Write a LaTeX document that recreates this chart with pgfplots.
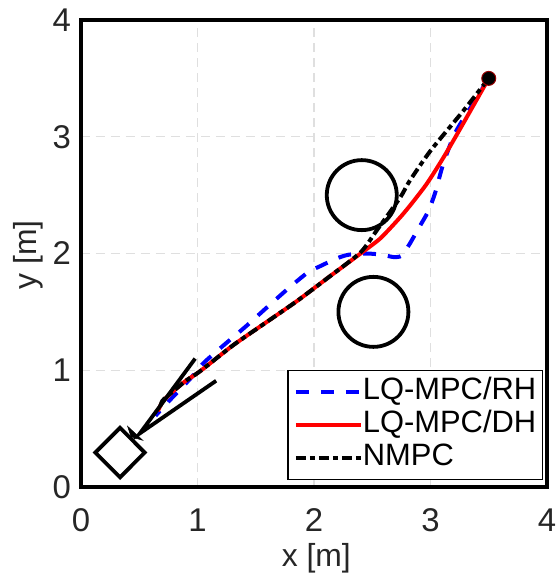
\documentclass[border=0pt]{standalone}
\usepackage{fontspec}
\setmainfont{Liberation Sans}
\usepackage{pgfplots}
\pgfplotsset{compat=1.18}
\definecolor{txt}{HTML}{262626}
\definecolor{gridc}{HTML}{DFDFDF}
\begin{document}
\begin{tikzpicture}
\begin{axis}[
  at={(0,0)}, anchor=south west,
  width=466bp, height=467bp, scale only axis,
  xmin=0, xmax=4, ymin=0, ymax=4,
  xtick={0,1,2,3,4}, ytick={0,1,2,3,4},
  /pgf/number format/assume math mode=true,
  tick label style={font=\fontsize{33}{36}\selectfont, text=txt, inner sep=0pt},
  xticklabel style={anchor=center, yshift=-33bp},
  yticklabel style={anchor=east, xshift=-10bp},
  major tick length=0pt,
  grid=major,
  major grid style={gridc, line width=1.3bp, dash pattern=on 9bp off 6bp},
  axis line style={black, line width=3.2bp},
  xlabel={x [m]}, ylabel={y [m]},
  label style={font=\fontsize{32}{35}\selectfont, text=txt},
  xlabel style={at={(axis description cs:0.505,-0.152)}, anchor=center},
  ylabel style={at={(axis description cs:-0.113,0.497)}, anchor=center},
  legend style={at={(rel axis cs:0.991,0.015)}, anchor=south east,
    font=\fontsize{31}{33}\selectfont, draw=black, line width=1.2bp,
    inner xsep=6bp, inner ysep=6bp, row sep=2bp,
    nodes={inner sep=0bp, text height=23bp, text depth=8bp},
    /tikz/every even column/.append style={column sep=7bp}},
  legend cell align=left,
  legend image code/.code={\draw[#1] (0bp,0bp) -- (65bp,0bp);},
]
% LQ-MPC/RH
\addplot[blue, line width=4bp, smooth, tension=0.4, dash pattern=on 13bp off 12bp] coordinates {
 (3.5,3.5) (3.35,3.26) (3.21,3.03) (3.11,2.77) (3.04,2.52) (2.98,2.36)
 (2.9,2.22) (2.82,2.08) (2.75,1.98) (2.68,1.97) (2.58,1.99) (2.45,2.0)
 (2.3,1.99) (2.2,1.96) (2.05,1.89) (1.95,1.84) (1.79,1.71) (1.62,1.56)
 (1.42,1.38) (1.22,1.21) (1.05,1.06) (0.94,0.93) (0.74,0.72) (0.64,0.61)};
\addlegendentry{LQ-MPC/RH}
% LQ-MPC/DH
\addplot[red, line width=4bp, smooth, tension=0.4] coordinates {
 (3.5,3.5) (3.25,3.06) (3.11,2.82) (2.97,2.6) (2.84,2.43) (2.74,2.31) (2.57,2.13)
 (2.4,2.0) (2.13,1.80) (1.85,1.59) (1.56,1.39) (1.30,1.21) (1.02,0.99)
 (0.90,0.91) (0.78,0.81) (0.70,0.73) (0.66,0.65)};
\addlegendentry{LQ-MPC/DH}
% NMPC
\addplot[black, line width=4bp, smooth, tension=0.4, dash pattern=on 10bp off 4bp on 5bp off 4bp] coordinates {
 (3.5,3.5) (3.28,3.22) (3.0,2.88) (2.82,2.62) (2.74,2.48) (2.54,2.2)
 (2.4,2.01) (2.13,1.80) (1.85,1.59) (1.56,1.39) (1.30,1.21) (1.02,0.99)
 (0.90,0.91) (0.78,0.81) (0.70,0.74) (0.67,0.66)};
\addlegendentry{NMPC}
% obstacles
\addplot[only marks, mark=o, mark size=35bp, mark options={black, line width=3.8bp}, forget plot]
 coordinates {(2.41,2.5) (2.51,1.5)};
% start
\addplot[only marks, mark=*, mark size=7bp, mark options={fill=black, draw=red!60!black, line width=1bp}, forget plot]
 coordinates {(3.5,3.5)};
% goal heading arrow
\addplot[black, line width=3.8bp, forget plot] coordinates {(0.98,1.10) (0.506,0.46) (1.16,0.91)};
\addplot[black, fill=black, line width=0.5bp, forget plot] coordinates {(0.40,0.52) (0.43,0.43) (0.53,0.40)} -- cycle;
% goal pose
\addplot[black, line width=3.8bp, line join=miter, forget plot] coordinates {
 (0.123,0.295) (0.335,0.507) (0.547,0.295) (0.335,0.083)} -- cycle;
\end{axis}
\pgfresetboundingbox
\path (-81bp,-93bp) rectangle (476bp,487bp);
\end{tikzpicture}
\end{document}
